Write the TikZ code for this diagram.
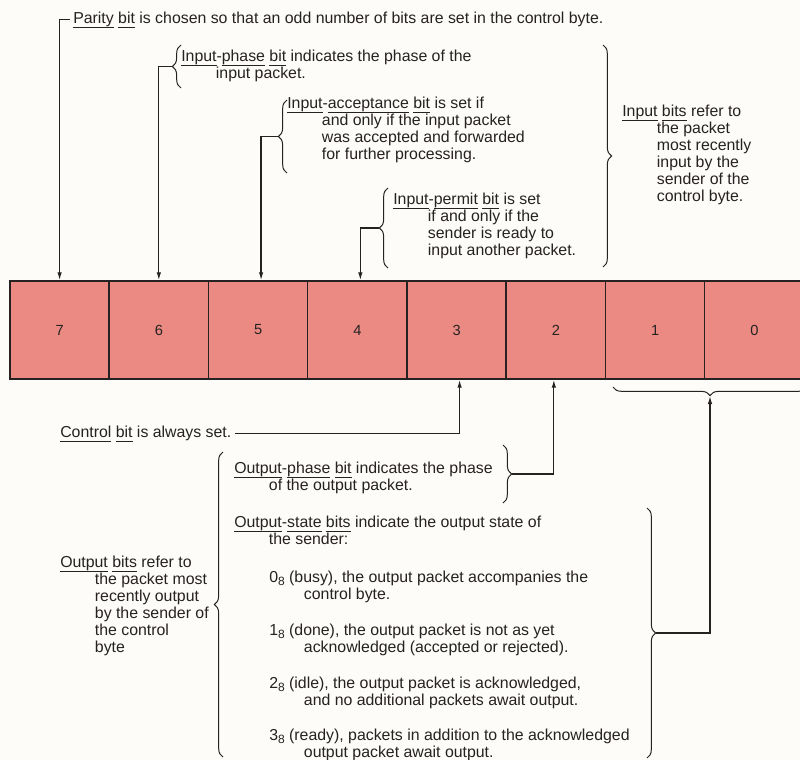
\documentclass[tikz,border=0pt]{standalone}
\usepackage{fontspec}
\setmainfont{Liberation Sans}
\usetikzlibrary{decorations.pathreplacing,arrows.meta,calc}
\definecolor{cellred}{RGB}{234,138,130}
\definecolor{inkcol}{RGB}{38,34,34}
\definecolor{bgcol}{RGB}{253,252,249}
\newsavebox\myulbox
\newcommand\myul[1]{\sbox\myulbox{#1}\makebox[0pt][l]{\rule[-3.3pt]{\wd\myulbox}{0.55pt}}\usebox{\myulbox}}
\newcommand\mysub[1]{\raisebox{-2.6pt}{\fontsize{9}{9}\selectfont #1}}
\newcommand\ind{\hspace*{26pt}}
\begin{document}
\begin{tikzpicture}[x=0.75pt,y=-0.75pt,
  txt/.style={anchor=north west,inner sep=0pt,align=left,text=inkcol,
    font=\fontsize{11.9}{12.75}\selectfont},
  cell/.style={draw=inkcol,line width=1.1pt,fill=cellred,minimum width=74.44pt,
    minimum height=73.5pt,inner sep=0pt,text=inkcol,font=\fontsize{11}{12}\selectfont},
  conn/.style={draw=inkcol,line width=0.95pt},
  arr/.style={conn,-{Latex[length=6pt,width=3.4pt]}},
  lbrace/.style={draw=inkcol,line width=0.75pt,decorate,decoration={brace,amplitude=6.5pt}}]
\fill[bgcol] (0,0) rectangle (800,760);
\useasboundingbox (0,0) rectangle (800,760);
% byte cells
\foreach \n [count=\i from 0] in {7,6,5,4,3,2,1,0}
  \node[cell] (c\n) at ({59.6+99.25*\i},330) {\n};
% texts
\node[txt] (par) at (73,11.5) {\myul{Parity} \myul{bit} is chosen so that an odd number of bits are set in the control byte.};
\node[txt] (ip) at (181,49.5) {\myul{Input}-\myul{phase} \myul{bit} indicates the phase of the\\\ind input packet.};
\node[txt] (ia) at (287,96.5) {\myul{Input}-\myul{acceptance} \myul{bit} is set if\\\ind and only if the input packet\\\ind was accepted and forwarded\\\ind for further processing.};
\node[txt] (ipm) at (393,192.5) {\myul{Input}-\myul{permit} \myul{bit} is set\\\ind if and only if the\\\ind sender is ready to\\\ind input another packet.};
\node[txt] (ib) at (622,104.5) {\myul{Input} \myul{bits} refer to\\\ind the packet\\\ind most recently\\\ind input by the\\\ind sender of the\\\ind control byte.};
\node[txt] (ctl) at (60,425.5) {\myul{Control} \myul{bit} is always set.};
\node[txt] (op) at (234,461.5) {\myul{Output}-\myul{phase} \myul{bit} indicates the phase\\\ind of the output packet.};
\node[txt] (os) at (234,515.5) {\myul{Output}-\myul{state} \myul{bits} indicate the output state of\\\ind the sender:};
\node[txt] (s0) at (269,570.5) {0\mysub{8} (busy), the output packet accompanies the\\\ind control byte.};
\node[txt] (s1) at (269,623.5) {1\mysub{8} (done), the output packet is not as yet\\\ind acknowledged (accepted or rejected).};
\node[txt] (s2) at (269,676.5) {2\mysub{8} (idle), the output packet is acknowledged,\\\ind and no additional packets await output.};
\node[txt] (s3) at (269,728.5) {3\mysub{8} (ready), packets in addition to the acknowledged\\\ind output packet await output.};
\node[txt] (ob) at (60,555.5) {\myul{Output} \myul{bits} refer to\\\ind the packet most\\\ind recently output\\\ind by the sender of\\\ind the control\\\ind byte};
% braces
\draw[lbrace] (181,88) -- (181,45);
\coordinate (t6) at (172,66.5);
\draw[lbrace] (287,173) -- (287,100);
\coordinate (t5) at (278,136.5);
\draw[lbrace] (388,268) -- (388,188);
\coordinate (t4) at (379,228);
\draw[lbrace] (603,45) -- (603,267);
\draw[lbrace] (503,445) -- (503,503);
\coordinate (tp) at (512,474);
\draw[lbrace] (647,508) -- (647,758);
\coordinate (tst) at (656,633);
\draw[lbrace] (223,757) -- (223,452);
\draw[lbrace] (807,387) -- (613,387);
\coordinate (tlow) at (710,396);
% connectors
\draw[arr] ($(par.west)+(-3,0)$) -| (c7.north);
\draw[arr] (t6) -| (c6.north);
\draw[arr] (t5) -| ($(c5.north)+(3,0)$);
\draw[arr] (t4) -| ($(c4.north)+(3,0)$);
\draw[arr] ($(ctl.east)+(3,0)$) -| ($(c3.south)+(3,0)$);
\draw[arr] (tp) -| ($(c2.south)+(-2,0)$);
\draw[arr] (tst) -| (tlow);
\end{tikzpicture}
\end{document}
